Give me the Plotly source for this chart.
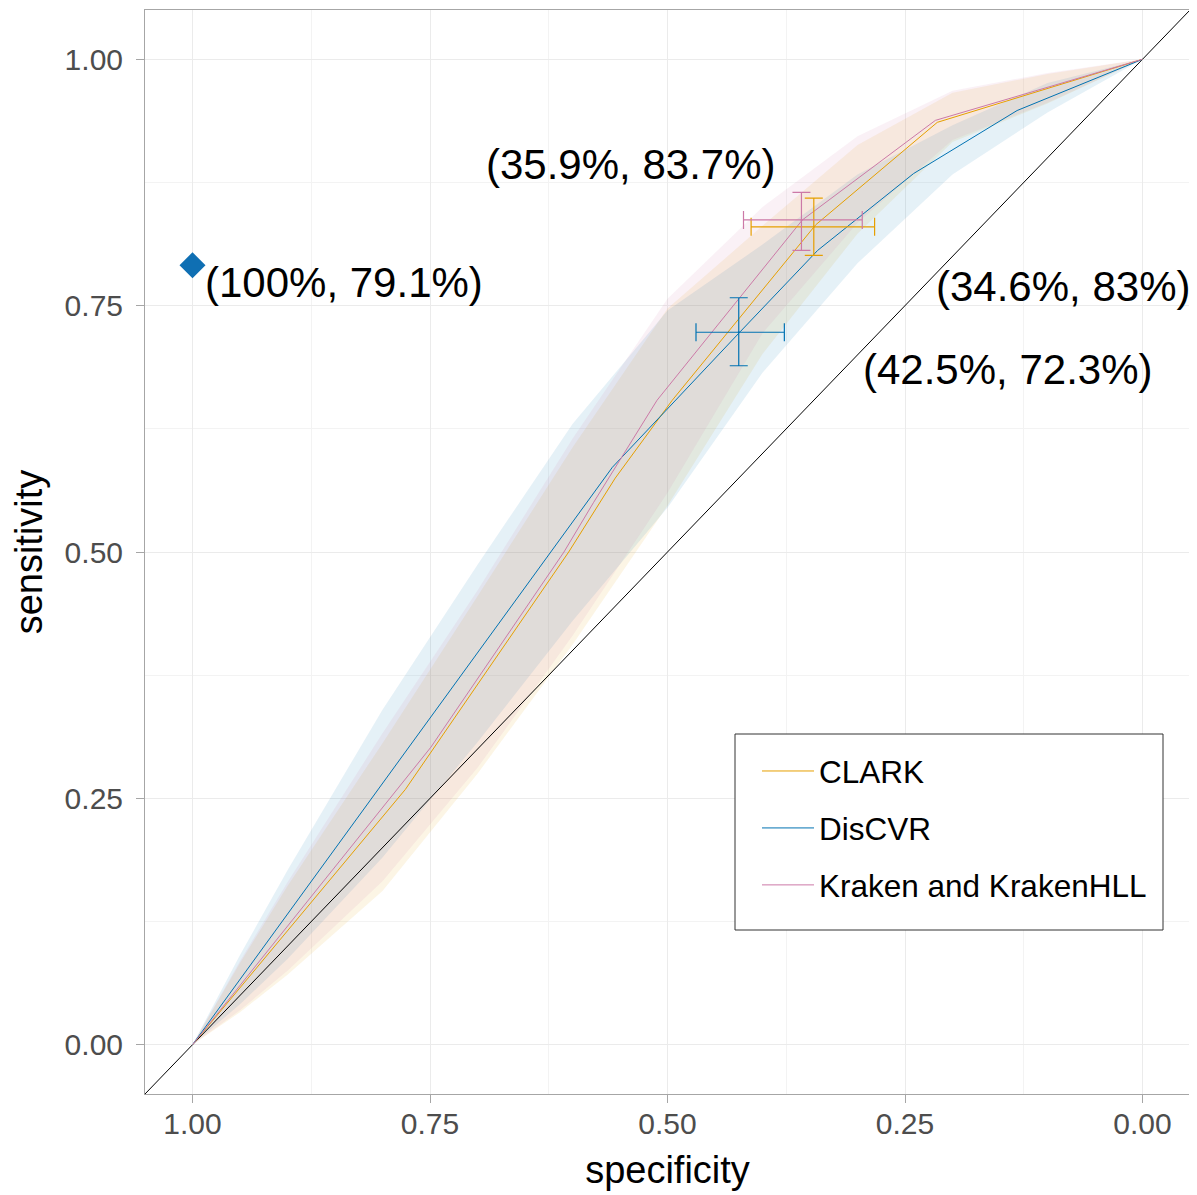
import plotly.graph_objects as go

# ---------------- data ----------------
series_names = ["CLARK", "DisCVR", "Kraken and KrakenHLL"]
series_colors = ["#E69F00", "#0072B2", "#CC79A7"]
band_colors = ["rgba(230,159,0,0.10)", "rgba(0,114,178,0.10)", "rgba(204,121,167,0.10)"]

# ROC curve vertices (specificity, sensitivity)
clark_spec = [1.0, 0.776, 0.604, 0.555, 0.495, 0.344, 0.216, 0.0]
clark_sens = [0.0, 0.259, 0.500, 0.575, 0.654, 0.832, 0.936, 1.0]
discvr_spec = [1.0, 0.657, 0.558, 0.423, 0.342, 0.241, 0.132, 0.0]
discvr_sens = [0.0, 0.454, 0.586, 0.724, 0.806, 0.884, 0.948, 1.0]
kraken_spec = [1.0, 0.749, 0.609, 0.578, 0.511, 0.358, 0.218, 0.0]
kraken_sens = [0.0, 0.302, 0.500, 0.550, 0.654, 0.837, 0.938, 1.0]

# confidence bands (sensitivity bounds at given specificity)
band_spec = [1.0, 0.95, 0.9, 0.8, 0.7, 0.6, 0.5, 0.4, 0.3, 0.2, 0.1, 0.0]
clark_lo = [0.0, 0.033, 0.071, 0.156, 0.275, 0.406, 0.547, 0.701, 0.823, 0.916, 0.955, 1.0]
clark_hi = [0.0, 0.083, 0.161, 0.306, 0.455, 0.606, 0.747, 0.831, 0.913, 0.966, 0.985, 1.0]
discvr_lo = [0.0, 0.041, 0.087, 0.190, 0.307, 0.430, 0.545, 0.682, 0.793, 0.883, 0.946, 1.0]
discvr_hi = [0.0, 0.091, 0.177, 0.340, 0.487, 0.630, 0.745, 0.812, 0.883, 0.933, 0.976, 1.0]
kraken_lo = [0.0, 0.035, 0.075, 0.166, 0.281, 0.415, 0.560, 0.722, 0.834, 0.918, 0.956, 1.0]
kraken_hi = [0.0, 0.085, 0.165, 0.316, 0.461, 0.615, 0.757, 0.850, 0.922, 0.968, 0.986, 1.0]

# operating points with confidence intervals
pt_spec = [0.346, 0.425, 0.359]
pt_spec_lo = [0.282, 0.377, 0.295]
pt_spec_hi = [0.412, 0.470, 0.420]
pt_sens = [0.830, 0.723, 0.837]
pt_sens_lo = [0.801, 0.689, 0.806]
pt_sens_hi = [0.859, 0.758, 0.865]

# DisCVR single point (diamond)
diamond_spec = [1.0]
diamond_sens = [0.791]

# chance diagonal
diag_spec = [1.05, -0.05]
diag_sens = [-0.05, 1.05]

# text labels
label_texts = ["(100%, 79.1%)", "(35.9%, 83.7%)", "(34.6%, 83%)", "(42.5%, 72.3%)"]
label_spec = [0.8405, 0.5384, 0.0837, 0.1416]
label_sens = [0.773, 0.893, 0.769, 0.685]

tick_vals = [1.0, 0.75, 0.5, 0.25, 0.0]
tick_text = ["1.00", "0.75", "0.50", "0.25", "0.00"]
minor_vals = [0.875, 0.625, 0.375, 0.125]

curves = [(clark_spec, clark_sens), (discvr_spec, discvr_sens), (kraken_spec, kraken_sens)]
bands = [(clark_lo, clark_hi), (discvr_lo, discvr_hi), (kraken_lo, kraken_hi)]

FONT = "Liberation Sans, Arial, Helvetica, sans-serif"

# page body has an 8px default margin; size the figure to compensate
W, H = 1189, 1187
ML, MR, MT, MB = 137, 7, 2, 101
PW = W - ML - MR
PH = H - MT - MB


def px_x(p):  # page pixel -> paper x
    return (p - 8 - ML) / PW


def px_y(p):  # page pixel -> paper y
    return (H - MB + 8 - p) / PH


fig = go.Figure()

# bands
for (lo, hi), fc in zip(bands, band_colors):
    fig.add_trace(go.Scatter(
        x=band_spec + band_spec[::-1], y=hi + lo[::-1],
        mode="lines", fill="toself", fillcolor=fc, line=dict(width=0),
        showlegend=False, hoverinfo="skip"))

# diagonal
fig.add_trace(go.Scatter(x=diag_spec, y=diag_sens, mode="lines",
                         line=dict(color="#000000", width=1), showlegend=False, hoverinfo="skip"))

# curves
for (sx, sy), name, col in zip(curves, series_names, series_colors):
    fig.add_trace(go.Scatter(x=sx, y=sy, mode="lines", name=name, legendgroup=name,
                             line=dict(color=col, width=1)))

# error crosses
for i, col in enumerate(series_colors):
    fig.add_trace(go.Scatter(
        x=[pt_spec[i]], y=[pt_sens[i]], mode="markers",
        marker=dict(size=2, color=col),
        error_x=dict(type="data", symmetric=False,
                     array=[pt_spec_hi[i] - pt_spec[i]], arrayminus=[pt_spec[i] - pt_spec_lo[i]],
                     color=col, thickness=1.2, width=9),
        error_y=dict(type="data", symmetric=False,
                     array=[pt_sens_hi[i] - pt_sens[i]], arrayminus=[pt_sens[i] - pt_sens_lo[i]],
                     color=col, thickness=1.2, width=9),
        showlegend=False, hoverinfo="skip"))

# diamond
fig.add_trace(go.Scatter(x=diamond_spec, y=diamond_sens, mode="markers",
                         marker=dict(symbol="diamond", size=20, color="#0F6FB3"),
                         showlegend=False))

for t, xs, ys in zip(label_texts, label_spec, label_sens):
    fig.add_annotation(x=xs, y=ys, text=t, showarrow=False, xanchor="center", yanchor="middle",
                       font=dict(size=42, color="#000000", family=FONT))

# legend box
fig.add_shape(type="rect", xref="paper", yref="paper",
              x0=px_x(735), x1=px_x(1163), y0=px_y(930), y1=px_y(734),
              line=dict(color="#333333", width=1), fillcolor="#FFFFFF", layer="above")

axis_common = dict(
    tickvals=tick_vals, ticktext=tick_text,
    showgrid=True, gridcolor="#EBEBEB", gridwidth=1,
    minor=dict(tickvals=minor_vals, showgrid=True, gridcolor="#F3F3F3", gridwidth=1, ticks=""),
    zeroline=False, showline=True, mirror=True, linecolor="#A6A6A6", linewidth=1,
    ticks="outside", ticklen=8, tickcolor="#A6A6A6", tickwidth=1,
    tickfont=dict(size=30, color="#4D4D4D", family=FONT),
    automargin=False,
)

fig.update_xaxes(range=[1.05, -0.05],
                 title=dict(text="specificity", font=dict(size=38, color="#000000", family=FONT), standoff=17),
                 ticklabelstandoff=-5, **axis_common)
fig.update_yaxes(range=[-0.05, 1.05],
                 title=dict(text="sensitivity", font=dict(size=38, color="#000000", family=FONT), standoff=10),
                 ticklabelstandoff=7, **axis_common)

fig.update_layout(
    width=W, height=H,
    margin=dict(l=ML, r=MR, t=MT, b=MB),
    plot_bgcolor="#FFFFFF", paper_bgcolor="#FFFFFF",
    font=dict(family=FONT),
    legend=dict(x=px_x(757), y=px_y(744), xanchor="left", yanchor="top",
                borderwidth=0, bgcolor="rgba(0,0,0,0)",
                font=dict(size=31.5, color="#000000", family=FONT),
                traceorder="grouped", tracegroupgap=13, itemwidth=52),
)

fig.write_html("out.html")
